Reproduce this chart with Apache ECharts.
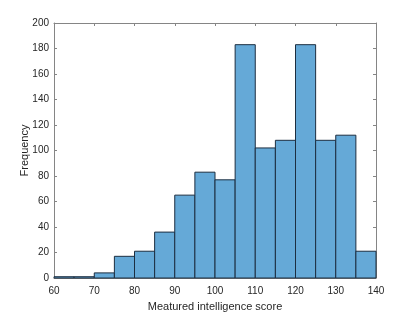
<!DOCTYPE html>
<html><head><meta charset="utf-8">
<script src="https://cdn.jsdelivr.net/npm/echarts@6/dist/echarts.min.js"></script>
<style>html,body{margin:0;padding:0;background:#fff}#c{width:415px;height:312px}</style>
</head><body><div id="c"></div>
<script>
const binStarts = [60,65,70,75,80,85,90,95,100,105,110,115,120,125,130,135];
const binWidth = 5;
const counts = [1,1,4,17,21,36,65,83,77,183,102,108,183,108,112,21];
const xTitle = 'Meatured intelligence score';
const yTitle = 'Frequency';

const chart = echarts.init(document.getElementById('c'), null, {renderer:'canvas'});
const font = 'Liberation Sans, Arial, Helvetica, sans-serif';
const axisCol = '#858585';
const common = {
  axisLine:{show:true, onZero:false, lineStyle:{color:axisCol, width:1}},
  axisTick:{show:true, inside:true, length:3, lineStyle:{color:axisCol}},
  splitLine:{show:false}
};
chart.setOption({
  animation:false,
  grid:{left:54, right:39, top:23, bottom:34, containLabel:false, outerBoundsMode:'none'},
  xAxis:[
    Object.assign({type:'value', min:60, max:140, interval:10, position:'bottom',
      axisLabel:{color:'#262626', fontSize:10, fontFamily:font, margin:8},
      name:xTitle, nameLocation:'middle', nameGap:23, nameMoveOverlap:false,
      nameTextStyle:{color:'#262626', fontSize:11, fontFamily:font}}, common),
    Object.assign({type:'value', min:60, max:140, interval:10, position:'top',
      axisLabel:{show:false}}, common)
  ],
  yAxis:[
    Object.assign({type:'value', min:0, max:200, interval:20, position:'left',
      axisLabel:{color:'#262626', fontSize:10, fontFamily:font, margin:5},
      name:yTitle, nameLocation:'middle', nameGap:24, nameMoveOverlap:false,
      nameTextStyle:{color:'#262626', fontSize:11, fontFamily:font}}, common),
    Object.assign({type:'value', min:0, max:200, interval:20, position:'right',
      axisLabel:{show:false}}, common)
  ],
  series:[{
    type:'custom',
    xAxisIndex:0, yAxisIndex:0,
    data: binStarts.map((b,i)=>[b, counts[i]]),
    encode:{x:0, y:1},
    renderItem:function(params, api){
      const x0 = api.value(0), v = api.value(1);
      const p1 = api.coord([x0, v]);
      const p2 = api.coord([x0 + binWidth, 0]);
      return {type:'rect',
        shape:{x:p1[0], y:p1[1], width:p2[0]-p1[0], height:p2[1]-p1[1]},
        style:{fill:'#65a9d7', stroke:'#1c2e40', lineWidth:1}};
    }
  }]
});
</script></body></html>
